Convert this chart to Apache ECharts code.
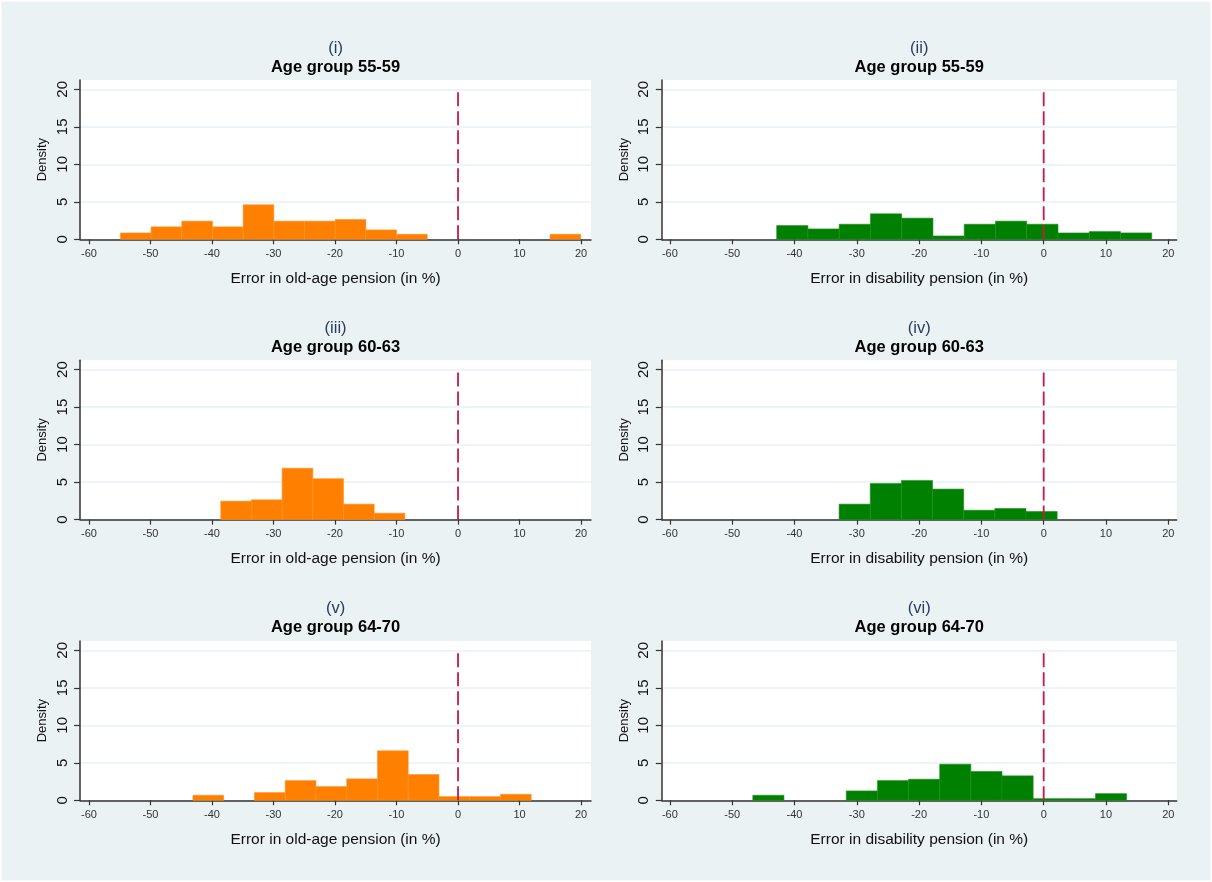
<!DOCTYPE html>
<html>
<head>
<meta charset="utf-8">
<title>Pension error histograms</title>
<script src="https://cdn.jsdelivr.net/npm/echarts@6/dist/echarts.min.js"></script>
<style>
  html, body { margin: 0; padding: 0; background: #ffffff; }
  #chart { width: 1212px; height: 882px; }
</style>
</head>
<body>
<div id="chart"></div>
<script>
// Panel labels and titles, in reading order (left column: old-age, right column: disability)
const panelTags = ['(i)', '(ii)', '(iii)', '(iv)', '(v)', '(vi)'];
const ageGroups = ['Age group 55-59', 'Age group 55-59', 'Age group 60-63', 'Age group 60-63', 'Age group 64-70', 'Age group 64-70'];
const xTitles = ['Error in old-age pension (in %)', 'Error in disability pension (in %)'];
const yTitle = 'Density';

// Tick values
const xTicks = [-60, -50, -40, -30, -20, -10, 0, 10, 20];
const yTicks = [0, 5, 10, 15, 20];

// Histogram bins: left edge of the first bin, common bin width, density per bin
const binStart = [-54.9, -42.86, -38.58, -32.84, -43.1, -46.69];
const binWidth = [4.99, 5.017, 4.99, 5.0, 5.0, 5.0];
const densOldAge5559 = [0.85, 1.66, 2.42, 1.66, 4.6, 2.42, 2.42, 2.64, 1.25, 0.67, 0, 0, 0, 0, 0.67];
const densDisab5559  = [1.83, 1.39, 2.01, 3.40, 2.82, 0.45, 2.01, 2.42, 2.01, 0.85, 1.03, 0.85];
const densOldAge6063 = [2.46, 2.64, 6.85, 5.46, 2.06, 0.85];
const densDisab6063  = [2.06, 4.83, 5.23, 4.07, 1.25, 1.48, 1.07];
const densOldAge6470 = [0.67, 0, 1.03, 2.63, 1.83, 2.86, 6.6, 3.44, 0.49, 0.49, 0.80];
const densDisab6470  = [0.67, 0, 0, 1.25, 2.63, 2.81, 4.82, 3.84, 3.26, 0.22, 0.22, 0.89];
const densities = [densOldAge5559, densDisab5559, densOldAge6063, densDisab6063, densOldAge6470, densDisab6470];

// Zero-error reference line
const refX = 0;
const refTop = 20;

// Layout
const FONT = '"Liberation Sans", Arial, Helvetica, sans-serif';
const BG = '#eaf2f3';
const AXIS = '#333333';
const colLeft = [80.1, 661.8];
const colWidth = [510.9, 514.9];
const xMin = [-61.45, -61.3];
const xMax = [21.62, 21.35];
const rowTop = [80, 360.3, 641];
const rowHeight = 159.3;
const yMax = 21.24;
const barColors = ['#ff8000', '#008000'];
const barEdges = ['#ff9226', '#1f8f1f'];

const grids = [], xAxes = [], yAxes = [], series = [], graphics = [];

for (let p = 0; p < 6; p++) {
  const col = p % 2, row = Math.floor(p / 2);
  grids.push({
    left: colLeft[col], top: rowTop[row], width: colWidth[col], height: rowHeight,
    show: true, backgroundColor: '#ffffff', borderWidth: 0, containLabel: false
  });
  xAxes.push({
    type: 'value', gridIndex: p, min: xMin[col], max: xMax[col],
    name: xTitles[col], nameLocation: 'middle', nameGap: 31,
    nameTextStyle: { fontFamily: FONT, fontSize: 15.5, color: '#111' },
    axisLine: { show: true, onZero: false, lineStyle: { color: AXIS, width: 1.5 } },
    axisTick: { show: true, length: 5, customValues: xTicks, lineStyle: { color: AXIS, width: 1.2 } },
    axisLabel: { customValues: xTicks, margin: 9, fontFamily: FONT, fontSize: 11, color: '#333' },
    splitLine: { show: false }
  });
  yAxes.push({
    type: 'value', gridIndex: p, min: 0, max: yMax,
    name: yTitle, nameLocation: 'middle', nameGap: 31, nameRotate: 90,
    nameTextStyle: { fontFamily: FONT, fontSize: 13, color: '#111' },
    axisLine: { show: true, onZero: false, lineStyle: { color: AXIS, width: 1.5 } },
    axisTick: { show: true, length: 6, customValues: yTicks, lineStyle: { color: AXIS, width: 1.2 } },
    axisLabel: { customValues: yTicks, rotate: 90, margin: 10, fontFamily: FONT, fontSize: 15, color: '#111' },
    splitLine: { show: true, lineStyle: { color: BG, width: 1.5 } }
  });

  // histogram bars as [left edge, right edge, density]
  const bins = [];
  densities[p].forEach((d, i) => {
    if (d > 0) {
      const x0 = binStart[p] + i * binWidth[p];
      bins.push([x0, x0 + binWidth[p], d]);
    }
  });
  series.push({
    type: 'custom', xAxisIndex: p, yAxisIndex: p, z: 2,
    data: bins,
    encode: { x: [0, 1], y: 2 },
    renderItem: (params, api) => {
      const top = api.coord([api.value(0), api.value(2)]);
      const bottom = api.coord([api.value(1), 0]);
      return {
        type: 'rect',
        shape: { x: top[0], y: top[1], width: bottom[0] - top[0], height: bottom[1] - top[1] },
        style: { fill: barColors[col], stroke: barEdges[col], lineWidth: 0.6 }
      };
    }
  });
  series.push({
    type: 'line', xAxisIndex: p, yAxisIndex: p, z: 3,
    data: [[refX, 0], [refX, refTop]],
    symbol: 'none', silent: true,
    lineStyle: { color: '#c8174a', width: 1.8, type: [14, 5] }
  });

  const cx = colLeft[col] + colWidth[col] / 2;
  const ty = 48.3 + row * 280.3;
  graphics.push({
    type: 'text', x: cx, y: ty,
    style: { text: panelTags[p], textAlign: 'center', textVerticalAlign: 'middle',
             font: '16.5px ' + FONT, fill: '#2b3a63' }
  });
  graphics.push({
    type: 'text', x: cx, y: ty + 19,
    style: { text: ageGroups[p], textAlign: 'center', textVerticalAlign: 'middle',
             font: 'bold 16.5px ' + FONT, fill: '#000' }
  });
}

// thin light frame around the whole figure
graphics.push({
  type: 'rect', shape: { x: 0.75, y: 0.75, width: 1210.5, height: 880.5 },
  style: { fill: 'none', stroke: '#ffffff', lineWidth: 1.5 }, z: 10
});

const chart = echarts.init(document.getElementById('chart'), null, { renderer: 'canvas' });
chart.setOption({
  backgroundColor: BG,
  animation: false,
  textStyle: { fontFamily: FONT },
  grid: grids,
  xAxis: xAxes,
  yAxis: yAxes,
  series: series,
  graphic: graphics
});
</script>
</body>
</html>
